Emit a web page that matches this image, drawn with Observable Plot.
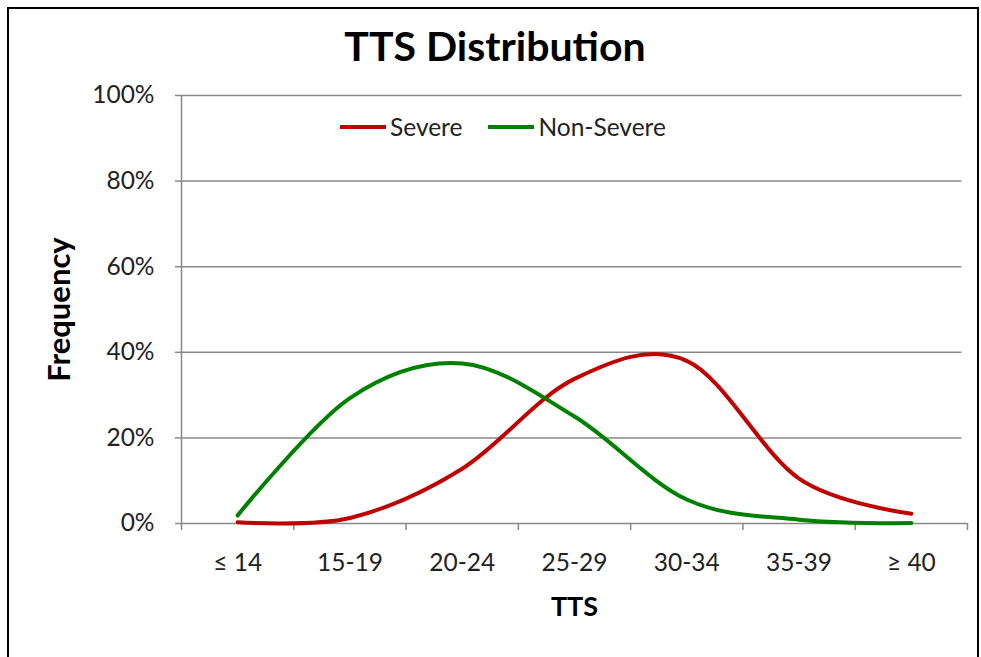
<!DOCTYPE html>
<html><head><meta charset="utf-8">
<script src="https://cdn.jsdelivr.net/npm/d3@7"></script>
<script src="https://cdn.jsdelivr.net/npm/@observablehq/plot@0.6"></script>
<style>
body{margin:0;background:#fff;font-family:Lato,"Open Sans",sans-serif;}
#frame{position:absolute;left:7px;top:7px;width:972px;height:660px;border:2px solid #000;box-sizing:border-box;}
#title{position:absolute;left:0;width:990px;top:21px;text-align:center;font-weight:bold;font-size:41px;color:#000;}
#legend{position:absolute;top:112px;left:340px;font-size:24.5px;color:#222;display:flex;align-items:center;}
#legend .sw{display:inline-block;width:46px;height:4px;margin-right:4px;}
#chart{position:absolute;left:0;top:0;}
</style></head>
<body>
<div id="frame"></div>
<div id="chart"></div>
<div id="title">TTS Distribution</div>
<div id="legend"></div>
<script>
const categories = ["≤ 14","15-19","20-24","25-29","30-34","35-39","≥ 40"];
const severe = [0.003, 0.013, 0.128, 0.338, 0.380, 0.105, 0.023];
const nonSevere = [0.019, 0.293, 0.374, 0.250, 0.056, 0.009, 0.001];
const seriesNames = ["Severe","Non-Severe"];
const seriesColors = ["#C00000","#008000"];
const yTicks = [0,0.2,0.4,0.6,0.8,1];

const rows = [];
categories.forEach((c,i)=>{
  rows.push({i, cat:c, series:seriesNames[0], v:severe[i]});
  rows.push({i, cat:c, series:seriesNames[1], v:nonSevere[i]});
});
const edges = d3.range(categories.length+1).map(k=>k-0.5);
const centers = d3.range(categories.length);

const plot = Plot.plot({
  width:981, height:657,
  marginLeft:181, marginRight:14, marginTop:95, marginBottom:134,
  style:{fontFamily:"Lato, 'Open Sans', sans-serif", background:"transparent"},
  x:{domain:[-0.5, categories.length-0.5]},
  y:{domain:[0,1]},
  color:{domain:seriesNames, range:seriesColors},
  marks:[
    Plot.gridY(yTicks.slice(1), {stroke:"#888", strokeOpacity:1, strokeWidth:1.5, x2:6.45}),
    Plot.ruleY([0], {stroke:"#888", strokeWidth:1.5}),
    Plot.ruleX([-0.5], {stroke:"#888", strokeWidth:1.5}),
    Plot.axisY(yTicks, {tickSize:6, tickPadding:21, stroke:"#888", strokeWidth:1.5, tickFormat:d3.format(".0%"), fontSize:24.5, fill:"#222", label:null}),
    Plot.axisX(edges, {tickSize:7, stroke:"#888", strokeWidth:1.5, tickFormat:()=>"", label:null}),
    Plot.axisX(centers, {tickSize:0, tickPadding:30, tickFormat:i=>categories[i], fontSize:24.5, fill:"#222", label:null}),
    Plot.line(rows, {x:"i", y:"v", z:"series", stroke:"series", strokeWidth:4, curve:d3.curveCatmullRom.alpha(0)}),
    Plot.text(["Frequency"], {frameAnchor:"left", textAnchor:"middle", dx:-121, rotate:-90, fontWeight:"bold", fontSize:31, fill:"#000"}),
    Plot.text(["TTS"], {frameAnchor:"bottom", dy:92, fontWeight:"bold", fontSize:27, fill:"#000"})
  ]
});
document.getElementById("chart").appendChild(plot);

const lg = document.getElementById("legend");
seriesNames.forEach((n,k)=>{
  const s=document.createElement("span");s.className="sw";s.style.background=seriesColors[k];
  const t=document.createElement("span");t.textContent=n;if(k===0)t.style.marginRight="26px";
  lg.appendChild(s);lg.appendChild(t);
});
</script>
</body></html>
